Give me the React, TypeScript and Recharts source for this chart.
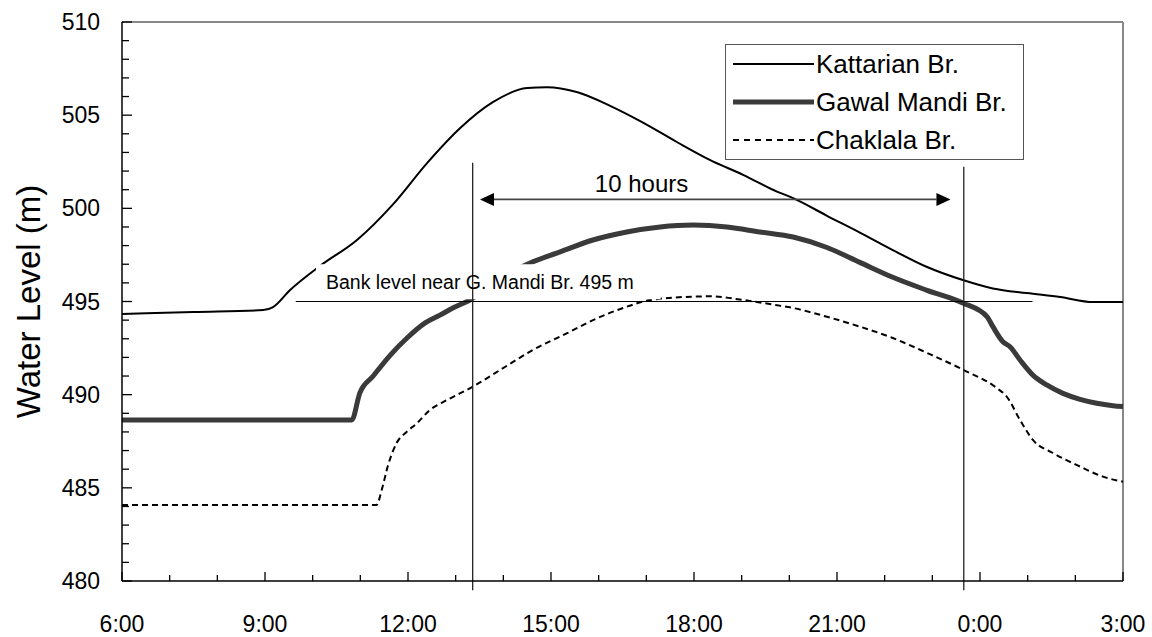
import React from "react";
import {
  LineChart,
  Line,
  XAxis,
  YAxis,
  Legend,
  ReferenceLine,
  ReferenceArea,
  ReferenceDot,
} from "recharts";

const FONT = '"Liberation Sans", Arial, sans-serif';

// hours after 6:00, water level (m)
const kattarianHours = [0, 1.5, 2.96, 3.17, 3.52, 4.15, 4.93, 5.68, 6.4, 7.09, 7.78, 8.5, 8.92, 9.54, 10.24, 10.93, 11.64, 12.33, 13.03, 13.74, 14.08, 14.79, 15.48, 16.17, 16.89, 17.64, 18.27, 18.98, 19.68, 20.37, 21];
const kattarianLevels = [494.33, 494.44, 494.54, 494.7, 495.6, 496.9, 498.3, 500.2, 502.43, 504.3, 505.7, 506.46, 506.5, 506.24, 505.5, 504.6, 503.56, 502.6, 501.8, 500.9, 500.55, 499.6, 498.7, 497.76, 496.85, 496.15, 495.7, 495.45, 495.24, 494.97, 494.97];

const gawalHours = [0, 4.82, 4.99, 5.27, 5.62, 5.98, 6.36, 6.67, 6.94, 7.3, 7.9, 8.56, 9.19, 9.88, 10.59, 11.29, 11.98, 12.69, 13.38, 14.08, 14.79, 15.48, 16.17, 16.89, 17.64, 18.15, 18.27, 18.48, 18.63, 18.84, 19.11, 19.4, 19.74, 20.1, 20.45, 20.79, 21];
const gawalLevels = [488.64, 488.64, 490.1, 491.0, 492.1, 493.04, 493.85, 494.27, 494.65, 495.08, 496.2, 497.07, 497.66, 498.3, 498.73, 499.0, 499.1, 499.0, 498.73, 498.46, 497.9, 497.1, 496.3, 495.6, 494.92, 494.18, 493.65, 492.84, 492.57, 491.86, 491.05, 490.52, 490.07, 489.75, 489.54, 489.41, 489.36];

const chaklalaHours = [0, 5.34, 5.45, 5.58, 5.76, 5.97, 6.18, 6.46, 6.81, 7.36, 7.93, 8.62, 9.34, 9.88, 10.59, 11.08, 11.98, 12.33, 13.03, 13.74, 14.08, 14.79, 15.48, 16.17, 16.89, 17.66, 18.35, 18.56, 18.84, 19.11, 19.53, 20.1, 20.58, 21];
const chaklalaLevels = [484.08, 484.08, 484.9, 486.2, 487.4, 488.0, 488.45, 489.18, 489.7, 490.43, 491.32, 492.4, 493.3, 494.0, 494.72, 495.08, 495.26, 495.28, 495.08, 494.8, 494.65, 494.18, 493.65, 493.04, 492.24, 491.32, 490.36, 489.9, 488.64, 487.57, 486.87, 486.14, 485.6, 485.33];

const xTicks = [0, 1, 2, 3, 4, 5, 6, 7, 8, 9, 10, 11, 12, 13, 14, 15, 16, 17, 18, 19, 20, 21];
const xTickLabels = ["6:00", "9:00", "12:00", "15:00", "18:00", "21:00", "0:00", "3:00"];
const yTicks = [480, 481, 482, 483, 484, 485, 486, 487, 488, 489, 490, 491, 492, 493, 494, 495, 496, 497, 498, 499, 500, 501, 502, 503, 504, 505, 506, 507, 508, 509, 510];

// annotation positions (hours after 6:00 / metres)
const crossingHours = [7.357, 17.66];
const crossingTops = [502.45, 502.23];
const arrowHours = [7.51, 17.38];
const arrowLevel = 500.48;
const bankLevel = 495;
const bankLineHours = [3.645, 19.1];

const toPoints = (hours: number[], levels: number[]) =>
  hours.map((h, i) => ({ hour: h, level: levels[i] }));

const series = [
  { name: "Kattarian Br.", data: toPoints(kattarianHours, kattarianLevels), stroke: "#000", width: 2, dash: undefined },
  { name: "Gawal Mandi Br.", data: toPoints(gawalHours, gawalLevels), stroke: "#3a3a3a", width: 5, dash: undefined },
  { name: "Chaklala Br.", data: toPoints(chaklalaHours, chaklalaLevels), stroke: "#000", width: 2, dash: "6 4" },
];

function XTick(props: any) {
  const { x, y, payload } = props;
  const major = payload.value % 3 === 0;
  return (
    <g>
      <line x1={x} x2={x} y1={y} y2={y - (major ? 9 : 6)} stroke="#000" strokeWidth={1.3} />
      {major && (
        <text x={x} y={y + 51} textAnchor="middle" fontFamily={FONT} fontSize={23} fill="#000">
          {xTickLabels[payload.value / 3]}
        </text>
      )}
    </g>
  );
}

function YTick(props: any) {
  const { x, y, payload } = props;
  const major = payload.value % 5 === 0;
  return (
    <g>
      <line x1={x} x2={x + (major ? 10 : 7)} y1={y} y2={y} stroke="#000" strokeWidth={1.3} />
      {major && (
        <text x={x - 22} y={y + 8} textAnchor="end" fontFamily={FONT} fontSize={23} fill="#000">
          {payload.value}
        </text>
      )}
    </g>
  );
}

function ArrowShape(props: any) {
  const { x1, x2, y1 } = props;
  const len = 14;
  const half = 6.5;
  return (
    <g>
      <line x1={x1 + len} x2={x2 - len} y1={y1} y2={y1} stroke="#444" strokeWidth={1.6} />
      <polygon points={`${x1},${y1} ${x1 + len},${y1 - half} ${x1 + len},${y1 + half}`} fill="#000" />
      <polygon points={`${x2},${y1} ${x2 - len},${y1 - half} ${x2 - len},${y1 + half}`} fill="#000" />
    </g>
  );
}

function LegendBox() {
  return (
    <div
      style={{
        width: 299,
        height: 116,
        boxSizing: "border-box",
        border: "1.5px solid #555",
        background: "#fff",
        fontFamily: FONT,
        fontSize: 26,
        color: "#000",
      }}
    >
      {series.map((s) => (
        <div key={s.name} style={{ display: "flex", alignItems: "center", height: 38 }}>
          <svg width={88} height={10} style={{ flex: "none" }}>
            <line x1={7} x2={88} y1={5} y2={5} stroke={s.stroke} strokeWidth={s.width} strokeDasharray={s.dash ? "6 5" : undefined} />
          </svg>
          <span style={{ marginLeft: 2, whiteSpace: "nowrap" }}>{s.name}</span>
        </div>
      ))}
    </div>
  );
}

export default function App() {
  return (
    <div style={{ position: "absolute", left: 0, top: 0, background: "#fff" }}>
      <LineChart width={1152} height={637} margin={{ top: 22, right: 29, bottom: 0, left: 0 }}>
        <XAxis
          type="number"
          dataKey="hour"
          domain={[0, 21]}
          ticks={xTicks}
          interval={0}
          height={56}
          tickSize={0}
          tickMargin={0}
          tickLine={false}
          axisLine={{ stroke: "#000", strokeWidth: 1.5 }}
          tick={(p: any) => <XTick {...p} />}
        />
        <YAxis
          type="number"
          domain={[480, 510]}
          ticks={yTicks}
          interval={0}
          width={122}
          tickSize={0}
          tickMargin={0}
          tickLine={false}
          axisLine={{ stroke: "#000", strokeWidth: 1.5 }}
          tick={(p: any) => <YTick {...p} />}
          label={{
            value: "Water Level (m)",
            content: (p: any) => {
              const vb = p.viewBox || { x: 0, y: 22, height: 559 };
              const cx = 28;
              const cy = vb.y + vb.height / 2;
              return (
                <text
                  x={cx}
                  y={cy}
                  transform={`rotate(-90, ${cx}, ${cy})`}
                  textAnchor="middle"
                  dominantBaseline="central"
                  fontFamily={FONT}
                  fontSize={33}
                  fill="#000"
                >
                  Water Level (m)
                </text>
              );
            },
          }}
        />
        <ReferenceLine y={510} stroke="#888" strokeWidth={2} />
        <ReferenceLine x={21} stroke="#888" strokeWidth={2} />
        {series.map((s) => (
          <Line
            key={s.name}
            name={s.name}
            data={s.data}
            dataKey="level"
            type="monotone"
            stroke={s.stroke}
            strokeWidth={s.width}
            strokeDasharray={s.dash}
            dot={false}
            activeDot={false}
            isAnimationActive={false}
          />
        ))}
        <ReferenceArea
          x1={4.07}
          x2={11.3}
          y1={495.12}
          y2={497.0}
          fill="#fff"
          fillOpacity={1}
          stroke="none"
          zIndex={450}
          label={{
            value: "Bank level near G. Mandi Br. 495 m",
            position: "insideLeft",
            offset: 10,
            fontFamily: FONT,
            fontSize: 19.5,
            fill: "#000",
          }}
        />
        <ReferenceLine
          segment={[{ x: bankLineHours[0], y: bankLevel }, { x: bankLineHours[1], y: bankLevel }]}
          stroke="#000"
          strokeWidth={1.2}
          zIndex={460}
        />
        {crossingHours.map((h, i) => (
          <ReferenceLine
            key={h}
            segment={[{ x: h, y: crossingTops[i] }, { x: h, y: 479.5 }]}
            stroke="#222"
            strokeWidth={1.3}
            ifOverflow="visible"
            zIndex={460}
          />
        ))}
        <ReferenceLine
          segment={[{ x: arrowHours[0], y: arrowLevel }, { x: arrowHours[1], y: arrowLevel }]}
          shape={(p: any) => <ArrowShape {...p} />}
          zIndex={460}
        />
        <ReferenceDot
          x={10.9}
          y={501.36}
          r={0}
          fill="none"
          stroke="none"
          label={{ value: "10 hours", position: "center", fontFamily: FONT, fontSize: 24, fill: "#000" }}
        />
        <Legend
          layout="vertical"
          align="center"
          verticalAlign="middle"
          content={() => <LegendBox />}
          wrapperStyle={{ position: "absolute", left: 725, top: 44, width: 299, height: 116 }}
        />
      </LineChart>
    </div>
  );
}
